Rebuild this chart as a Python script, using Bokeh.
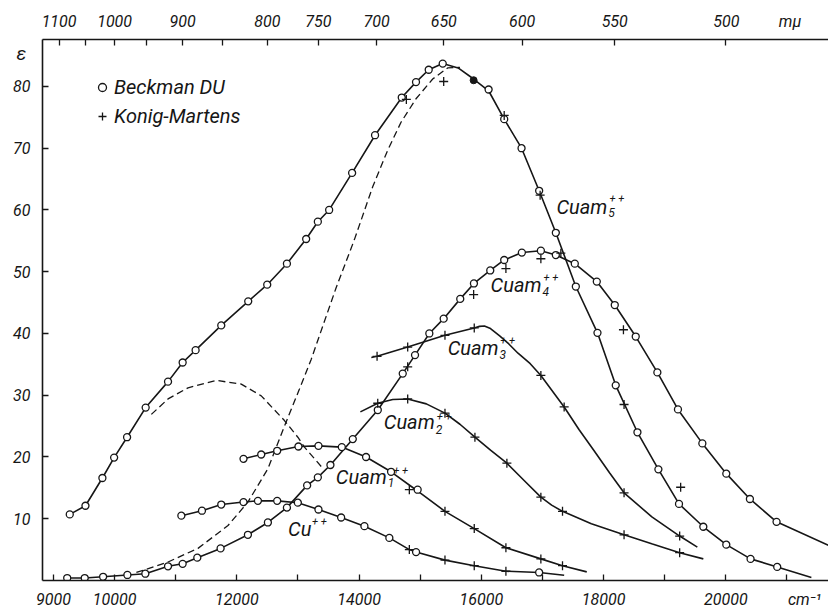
from bokeh.plotting import figure
from bokeh.models import Range1d, LinearAxis, FixedTicker, Label, Legend, LegendItem
from bokeh.embed import file_html
from bokeh.resources import INLINE

# ---------------- data (wavenumber cm^-1, epsilon) ----------------
# Cuam5++
cuam5_o_wn = [9266, 9523, 9800, 9992, 10204, 10508, 10874, 11113, 11325, 11745, 12186, 12497, 12819,
              13134, 13325, 13510, 13886, 14261, 14698, 14931, 15139, 15368, 16119, 16374, 16658,
              16946, 17219, 17546, 17900, 18199, 18554, 18897, 19234, 19632, 20008, 20405, 20841]
cuam5_o_eps = [10.7, 12.1, 16.6, 19.9, 23.2, 28.0, 32.2, 35.3, 37.3, 41.3, 45.2, 47.9, 51.3,
               55.3, 58.1, 60.0, 66.0, 72.1, 78.2, 80.7, 82.7, 83.7, 79.5, 74.7, 70.0,
               63.1, 56.3, 47.6, 40.1, 31.6, 24.0, 18.0, 12.4, 8.7, 5.8, 3.5, 2.2]
cuam5_x_wn = [14773, 15384, 16374, 16962, 18335, 19261]
cuam5_x_eps = [77.9, 80.8, 75.3, 62.4, 28.5, 15.1]
cuam5_f_wn = [15874]
cuam5_f_eps = [81.0]
cuam5_line_wn = [9266, 9523, 9800, 9992, 10204, 10508, 10874, 11113, 11325, 11745, 12186, 12497, 12819,
                 13134, 13325, 13510, 13886, 14261, 14698, 14931, 15139, 15368, 15620, 15874, 16119,
                 16374, 16658, 16946, 17219, 17546, 17900, 18199, 18554, 18897, 19234, 19632, 20008,
                 20405, 20841, 21400]
cuam5_line_eps = [10.7, 12.1, 16.6, 19.9, 23.2, 28.0, 32.2, 35.3, 37.3, 41.3, 45.2, 47.9, 51.3,
                  55.3, 58.1, 60.0, 66.0, 72.1, 78.2, 80.7, 82.7, 83.7, 83.0, 81.2, 79.3,
                  74.7, 70.0, 63.1, 56.3, 47.6, 40.1, 31.6, 24.0, 18.0, 12.4, 8.7, 5.8,
                  3.5, 2.2, 0.5]

# Cuam4++
cuam4_o_wn = [9224, 9511, 9812, 10209, 10503, 10874, 11113, 11353, 11734, 12181, 12508, 12819, 13150,
              13325, 13531, 13897, 14306, 14714, 14915, 15149, 15384, 15655, 15879, 16146, 16374,
              16663, 16974, 17219, 17529, 17889, 18183, 18526, 18880, 19217, 19616, 20008, 20394, 20830]
cuam4_o_eps = [0.4, 0.4, 0.6, 0.9, 1.1, 2.3, 2.7, 3.7, 5.2, 7.4, 9.4, 11.8, 15.4,
               16.7, 18.7, 22.9, 27.6, 33.5, 36.5, 40.0, 42.4, 45.6, 48.1, 50.2, 51.9,
               53.1, 53.4, 52.7, 51.3, 48.4, 44.6, 39.5, 33.7, 27.7, 22.2, 17.3, 13.2, 9.5]
cuam4_x_wn = [14795, 15874, 16402, 16974, 17301, 18325]
cuam4_x_eps = [34.6, 46.3, 50.5, 52.1, 53.0, 40.6]
cuam4_line_wn = cuam4_o_wn + [21680]
cuam4_line_eps = cuam4_o_eps + [5.7]

# Cuam3++
cuam3_x_wn = [14294, 14795, 15405, 15884, 16974, 17355, 18335, 19245]
cuam3_x_eps = [36.3, 37.8, 39.7, 40.9, 33.2, 28.1, 14.2, 7.2]
cuam3_line_wn = [14200, 14294, 14795, 15405, 15884, 15970, 16050, 16150, 16300, 16450, 16600, 16800,
                 16974, 17355, 17600, 17845, 18100, 18335, 18790, 19245, 19534]
cuam3_line_eps = [36.1, 36.3, 37.8, 39.7, 40.9, 41.15, 41.2, 40.8, 39.6, 38.3, 36.8, 35.1,
                  33.2, 28.1, 24.4, 21.0, 17.4, 14.2, 10.3, 7.2, 5.4]

# Cuam2++
cuam2_x_wn = [14305, 14795, 15405, 15895, 16418, 16974, 17328, 18335, 19245]
cuam2_x_eps = [28.7, 29.4, 27.1, 23.2, 19.0, 13.5, 11.2, 7.4, 4.5]
cuam2_line_wn = [14021, 14305, 14550, 14795, 15100, 15405, 15650, 15895, 16150, 16418, 16700, 16974,
                 17150, 17328, 17800, 18335, 18800, 19245, 19632]
cuam2_line_eps = [27.3, 28.7, 29.3, 29.4, 28.6, 27.1, 25.3, 23.2, 21.1, 19.0, 16.2, 13.5,
                  12.2, 11.2, 9.2, 7.4, 5.9, 4.5, 3.5]

# Cuam1++
cuam1_o_wn = [12109, 12399, 12660, 13008, 13335, 13717, 14114, 14523, 14958]
cuam1_o_eps = [19.7, 20.4, 21.0, 21.7, 21.8, 21.6, 20.0, 17.6, 14.7]
cuam1_x_wn = [14822, 15405, 15884, 16402, 16974, 17328]
cuam1_x_eps = [14.7, 11.2, 8.4, 5.3, 3.5, 2.4]
cuam1_line_wn = [12109, 12399, 12660, 13008, 13335, 13717, 14114, 14523, 14900, 15405, 15884,
                 16402, 16974, 17328, 17725]
cuam1_line_eps = [19.7, 20.4, 21.0, 21.7, 21.8, 21.6, 20.0, 17.6, 14.9, 11.2, 8.4,
                  5.3, 3.5, 2.4, 1.4]

# Cu++
cu_o_wn = [11092, 11429, 11745, 12109, 12345, 12660, 12998, 13335, 13706, 14087, 14495, 14932, 16946]
cu_o_eps = [10.5, 11.3, 12.3, 12.7, 12.9, 12.9, 12.6, 11.5, 10.2, 8.8, 6.9, 4.6, 1.3]
cu_x_wn = [14822, 15405, 15884, 16402]
cu_x_eps = [5.0, 3.3, 2.4, 1.5]
cu_line_wn = [11092, 11429, 11745, 12109, 12345, 12660, 12998, 13335, 13706, 14087, 14495, 14822,
              14932, 15405, 15884, 16402, 16946, 17355]
cu_line_eps = [10.5, 11.3, 12.3, 12.7, 12.9, 12.9, 12.6, 11.5, 10.2, 8.8, 6.9, 5.0,
               4.6, 3.3, 2.4, 1.5, 1.3, 0.85]

# dashed component bands of Cuam5++
bandA_wn = [10356, 10874, 11364, 11855, 12181, 12508, 12779, 13024, 13216, 13624, 13923, 14224,
            14469, 14686, 14931, 15204, 15449, 15650]
bandA_eps = [1.3, 3.0, 5.2, 8.9, 12.7, 18.1, 25.0, 31.0, 35.8, 47.4, 55.2, 63.8,
             69.7, 74.2, 78.0, 81.2, 83.0, 83.1]
bandB_wn = [10601, 10874, 11201, 11663, 12072, 12399, 12779, 12998, 13106, 13403]
bandB_eps = [26.9, 29.4, 31.2, 32.4, 31.8, 29.9, 25.9, 23.2, 21.6, 18.2]

# axis ticks
NB = "\u00a0"
bottom_ticks = [9000, 10000, 11000, 12000, 13000, 14000, 15000, 16000, 17000, 18000, 19000, 20000, 21000]
bottom_labels = ["9000", "10000", "", "12000", "", "14000", "", "16000", "", "18000", "", "20000",
                 NB * 9 + "cm\u207b\u00b9"]
top_nm = [1100, 1000, 900, 800, 750, 700, 650, 600, 550, 500]
top_labels = ["1100", "1000", "900", "800", "750", "700", "650", "600", "550",
              NB * 16 + "500" + NB * 10 + "mμ"]
top_nm_minor = [1050, 950, 850]
left_ticks = [10, 20, 30, 40, 50, 60, 70, 80]

# ---------------- figure ----------------
INK = "#161616"
FONT = "Roboto"

p = figure(width=828, height=611, output_backend="svg", toolbar_location=None,
           x_range=Range1d(8820, 21680), y_range=Range1d(0, 87.6),
           x_axis_location=None, y_axis_location=None,
           min_border_left=41, min_border_right=0, min_border_top=39, min_border_bottom=29)
p.outline_line_color = None
p.xgrid.visible = False
p.ygrid.visible = False
p.background_fill_color = "white"
p.border_fill_color = "white"


def style_axis(ax, standoff):
    ax.axis_line_color = INK
    ax.axis_line_width = 1.6
    ax.major_tick_line_color = INK
    ax.major_tick_line_width = 1.3
    ax.major_tick_in = 6
    ax.major_tick_out = 0
    ax.minor_tick_line_color = INK
    ax.minor_tick_line_width = 1.3
    ax.minor_tick_in = 6
    ax.minor_tick_out = 0
    ax.major_label_text_font = FONT
    ax.major_label_text_font_style = "italic"
    ax.major_label_text_font_size = "16px"
    ax.major_label_text_color = INK
    ax.major_label_standoff = standoff


xb = LinearAxis(ticker=FixedTicker(ticks=bottom_ticks),
                major_label_overrides={t: l for t, l in zip(bottom_ticks, bottom_labels)})
style_axis(xb, 9)
p.add_layout(xb, "below")

top_pos = [round(1e7 / nm) for nm in top_nm]
top_minor_pos = [round(1e7 / nm) for nm in top_nm_minor]
xt = LinearAxis(ticker=FixedTicker(ticks=top_pos, minor_ticks=top_minor_pos),
                major_label_overrides={t: l for t, l in zip(top_pos, top_labels)})
style_axis(xt, 9)
p.add_layout(xt, "above")

yl = LinearAxis(ticker=FixedTicker(ticks=left_ticks))
style_axis(yl, 12)
p.add_layout(yl, "left")

# ---------------- curves ----------------
LW = 1.6
p.line(bandA_wn, bandA_eps, line_color=INK, line_width=1.3, line_dash="7 4")
p.line(bandB_wn, bandB_eps, line_color=INK, line_width=1.3, line_dash="7 4")

for wn, ep in [(cuam5_line_wn, cuam5_line_eps), (cuam4_line_wn, cuam4_line_eps),
               (cuam3_line_wn, cuam3_line_eps), (cuam2_line_wn, cuam2_line_eps),
               (cuam1_line_wn, cuam1_line_eps), (cu_line_wn, cu_line_eps)]:
    p.line(wn, ep, line_color=INK, line_width=LW)

circ_kw = dict(marker="circle", size=7, line_color=INK, line_width=1.3, fill_color="white")
cross_kw = dict(marker="cross", size=9, line_color=INK, line_width=1.3)

r_circ = None
for wn, ep in [(cuam5_o_wn, cuam5_o_eps), (cuam4_o_wn, cuam4_o_eps),
               (cuam1_o_wn, cuam1_o_eps), (cu_o_wn, cu_o_eps)]:
    r = p.scatter(wn, ep, **circ_kw)
    if r_circ is None:
        r_circ = r
p.scatter(cuam5_f_wn, cuam5_f_eps, marker="circle", size=7, line_color=INK, fill_color=INK)

r_cross = None
for wn, ep in [(cuam5_x_wn, cuam5_x_eps), (cuam4_x_wn, cuam4_x_eps), (cuam3_x_wn, cuam3_x_eps),
               (cuam2_x_wn, cuam2_x_eps), (cuam1_x_wn, cuam1_x_eps), (cu_x_wn, cu_x_eps)]:
    r = p.scatter(wn, ep, **cross_kw)
    if r_cross is None:
        r_cross = r

# ---------------- legend ----------------
legend = Legend(items=[LegendItem(label="Beckman DU", renderers=[r_circ]),
                       LegendItem(label="Konig-Martens", renderers=[r_cross])],
                location=(50, 452), orientation="vertical",
                border_line_color=None, background_fill_alpha=0,
                label_text_font=FONT, label_text_font_style="italic", label_text_font_size="20px",
                label_text_color=INK, glyph_width=20, glyph_height=20, label_height=20,
                label_standoff=2, spacing=5, padding=0, margin=0)
p.add_layout(legend)

# ---------------- text ----------------
def lab(x, y, t, size="20px", align="left", place=None):
    L = Label(x=x, y=y, text=t, text_font=FONT, text_font_style="italic",
              text_font_size=size, text_align=align, text_baseline="middle",
              text_color=INK)
    if place is None:
        p.add_layout(L)
    else:
        p.add_layout(L, place)


lab(8478, 85.3, "ε", "19px", "center", place="left")

# curve names: main text, subscript, superscript
lab(17229, 60.5, "Cuam")
lab(18078, 59.6, "5", "12px")
lab(18095, 61.8, "+ +", "11px")

lab(16151, 47.8, "Cuam")
lab(17000, 46.8, "4", "12px")
lab(17015, 49.0, "+ +", "11px")

lab(15449, 37.7, "Cuam")
lab(16298, 36.6, "3", "12px")
lab(16310, 38.8, "+ +", "11px")

lab(14404, 25.6, "Cuam")
lab(15253, 24.4, "2", "12px")
lab(15270, 26.6, "+ +", "11px")

lab(13620, 16.8, "Cuam")
lab(14469, 15.8, "1", "12px")
lab(14560, 17.8, "+ +", "11px")

lab(12837, 8.4, "Cu")
lab(13228, 9.6, "+ +", "11px")

open("out.html", "w").write(file_html(p, INLINE))
